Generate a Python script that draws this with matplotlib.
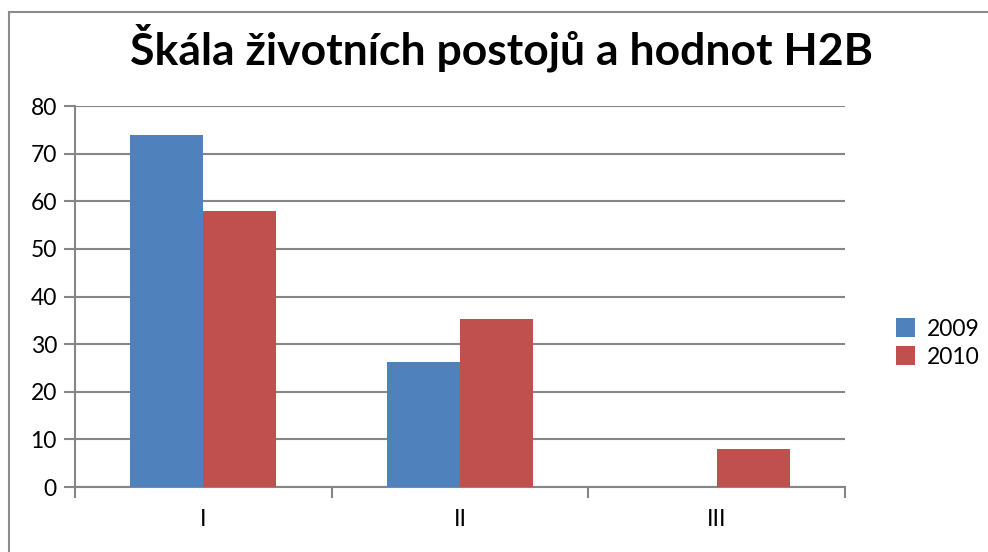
import numpy as np
import matplotlib.pyplot as plt
from matplotlib.patches import Rectangle

# Data
categories = ['I', 'II', 'III']
years = ['2009', '2010']
values_2009 = [74, 26.3, 0]
values_2010 = [58, 35.2, 8]
colors = ['#4F81BD', '#C0504D']
title = 'Škála životních postojů a hodnot H2B'


def main():
	plt.rcParams['font.family'] = ['Lato', 'DejaVu Sans']

	fig = plt.figure(figsize=(9.88, 5.52), dpi=100)
	ax = fig.add_axes([75 / 988, 65 / 552, 770 / 988, 381 / 552])

	x = np.arange(len(categories))
	w = 0.285
	ax.bar(x - w / 2, values_2009, w, color=colors[0], label=years[0], zorder=3)
	ax.bar(x + w / 2, values_2010, w, color=colors[1], label=years[1], zorder=3)

	# Assen
	ax.set_xlim(-0.5, len(categories) - 0.5)
	ax.set_ylim(0, 80)
	ax.set_yticks(range(0, 81, 10))
	ax.set_xticks(x)
	ax.set_xticklabels(categories)
	ax.set_xticks(np.arange(-0.5, len(categories), 1), minor=True)
	ax.tick_params(axis='x', which='major', length=0, pad=16, labelsize=16.5)
	ax.tick_params(axis='x', which='minor', length=8, width=1.5, color='#868686')
	ax.tick_params(axis='y', length=8, width=1.5, color='#868686', labelsize=16.5, pad=5)
	ax.grid(axis='y', color='#868686', linewidth=1.5, zorder=0)
	for s in ['top', 'right']:
		ax.spines[s].set_visible(False)
	for s in ['left', 'bottom']:
		ax.spines[s].set_color('#868686')
		ax.spines[s].set_linewidth(1.5)

	# Titel
	fig.text(502 / 988, 1 - 48 / 552, title, ha='center', va='center',
			 fontsize=32, fontweight='bold')

	# Legenda
	fig.legend(loc='center left', bbox_to_anchor=(875 / 988, 1 - 343 / 552),
			   frameon=False, fontsize=16.5, handlelength=0.85, handleheight=0.85,
			   handletextpad=0.5, labelspacing=0.3)

	# Rand van de grafiek
	fig.add_artist(Rectangle((9 / 988, -0.1), 1.2, 1 - 12 / 552 + 0.1,
							 transform=fig.transFigure, fill=False,
							 edgecolor='#8c8c8c', linewidth=1.5))

	fig.savefig('out.png', dpi=100)


if __name__ == '__main__':
	main()
